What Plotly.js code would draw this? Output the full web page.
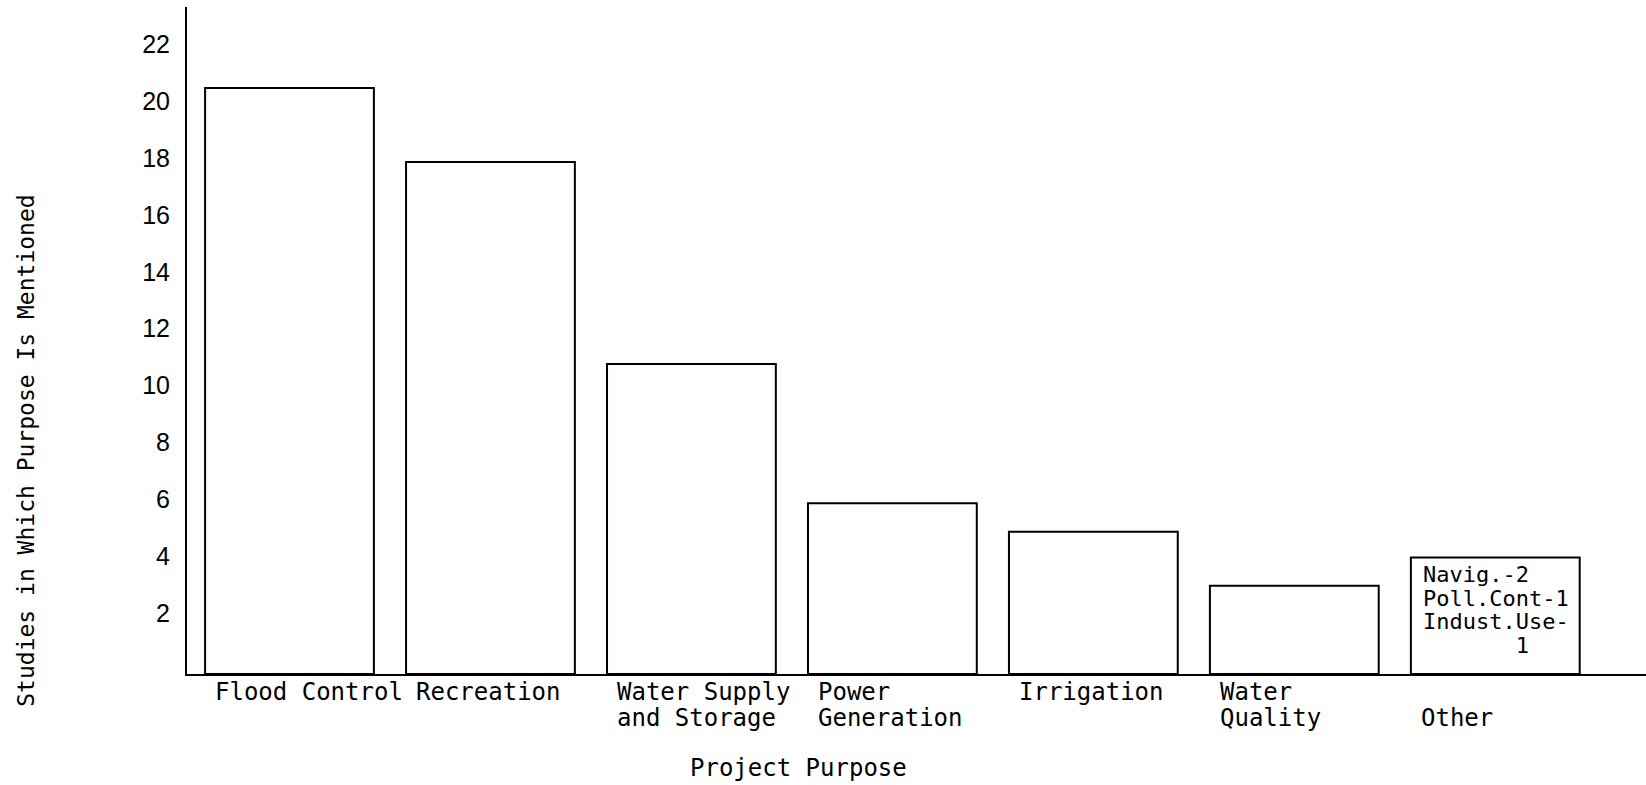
<!DOCTYPE html>
<html>
<head>
<meta charset="utf-8">
<script src="https://cdn.plot.ly/plotly-3.0.1.min.js"></script>
<style>html,body{margin:0;padding:0;background:#fff;}#chart{width:1646px;height:785px;}</style>
</head>
<body>
<div id="chart"></div>
<script>
// Data
const categories = ["Flood Control", "Recreation", "Water Supply and Storage", "Power Generation", "Irrigation", "Water Quality", "Other"];
const studies = [20.6, 18, 10.9, 6, 5, 3.1, 4.1];
const labelLines = [
  ["Flood Control"],
  ["Recreation"],
  ["Water Supply", "and Storage"],
  ["Power", "Generation"],
  ["Irrigation"],
  ["Water", "Quality"],
  ["", "Other"]
];
const otherBreakdown = ["Navig.-2", "Poll.Cont-1", "Indust.Use-", "\u00a0\u00a0\u00a0\u00a0\u00a0\u00a0\u00a01"];
const yTicks = [2, 4, 6, 8, 10, 12, 14, 16, 18, 20, 22];
const yTitle = "Studies in Which Purpose Is Mentioned";
const xTitle = "Project Purpose";

const mono = "DejaVu Sans Mono, Liberation Mono, monospace";
const sans = "Liberation Sans, Arial, sans-serif";

const annotations = [];
labelLines.forEach((lines, i) => {
  lines.forEach((t, k) => {
    if (!t) return;
    annotations.push({
      xref: "x", yref: "paper", x: categories[i], y: 0,
      xanchor: "left", yanchor: "top", xshift: -76, yshift: -2 - k * 26,
      text: t, showarrow: false, align: "left",
      font: {family: mono, size: 24, color: "#000"}
    });
  });
});
const otherIdx = categories.indexOf("Other");
otherBreakdown.forEach((t, k) => {
  annotations.push({
    xref: "x", yref: "y", x: categories[otherIdx], y: studies[otherIdx],
    xanchor: "left", yanchor: "top", xshift: -74, yshift: -4 - k * 23.5,
    height: 23, valign: "middle",
    text: t, showarrow: false, align: "left",
    font: {family: mono, size: 22, color: "#000"}
  });
});
annotations.push({
  xref: "paper", yref: "paper", x: -0.110, y: 0.334, xanchor: "center", yanchor: "middle",
  text: yTitle, textangle: -90, showarrow: false,
  font: {family: mono, size: 23, color: "#000"}
});
annotations.push({
  xref: "paper", yref: "paper", x: 0.419, y: -0.141, xanchor: "center", yanchor: "middle",
  text: xTitle, showarrow: false,
  font: {family: mono, size: 24, color: "#000"}
});

const trace = {
  type: "bar",
  x: categories,
  y: studies,
  marker: {color: "#ffffff", line: {color: "#000", width: 2}},
  hoverinfo: "x+y"
};

const layout = {
  width: 1646, height: 785,
  margin: {l: 187, r: 0, t: 7, b: 111, pad: 0},
  paper_bgcolor: "#fff", plot_bgcolor: "#fff",
  showlegend: false,
  bargap: 0.16,
  xaxis: {
    type: "category",
    range: [-0.51, 6.75],
    showticklabels: false, ticks: "",
    showgrid: false, zeroline: false,
    showline: true, linecolor: "#000", linewidth: 2
  },
  yaxis: {
    range: [0, 23.45],
    tickmode: "array", tickvals: yTicks, ticktext: yTicks.map(String),
    ticks: "", ticklabelstandoff: 10, ticklabelshift: -4,
    tickfont: {family: sans, size: 25, color: "#000"},
    showgrid: false, zeroline: false,
    showline: true, linecolor: "#000", linewidth: 2
  },
  annotations: annotations
};

Plotly.newPlot("chart", [trace], layout, {displayModeBar: false, staticPlot: true});
</script>
</body>
</html>
